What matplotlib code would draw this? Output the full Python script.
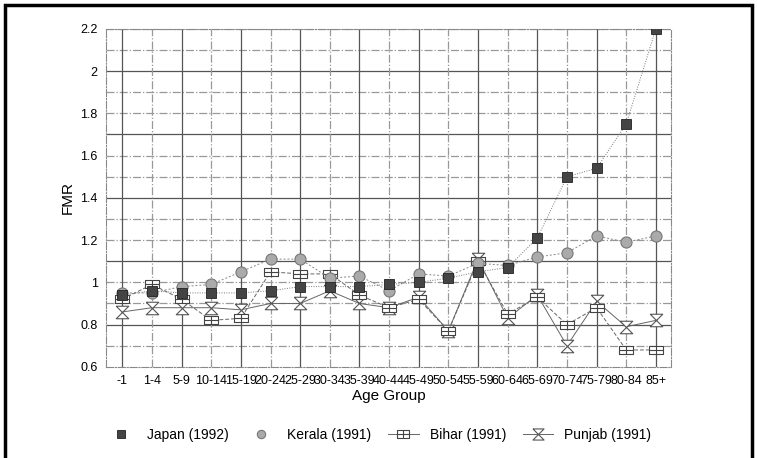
import numpy as np
import matplotlib
matplotlib.use("Agg")
import matplotlib.pyplot as plt
from matplotlib.path import Path
from matplotlib.patches import Rectangle
from matplotlib.lines import Line2D

plt.rcParams["font.family"] = ["Liberation Sans", "DejaVu Sans"]

# data
age_groups = ["-1", "1-4", "5-9", "10-14", "15-19", "20-24", "25-29", "30-34", "35-39",
              "40-44", "45-49", "50-54", "55-59", "60-64", "65-69", "70-74", "75-79",
              "80-84", "85+"]
japan = [0.94, 0.96, 0.95, 0.95, 0.95, 0.96, 0.98, 0.98, 0.98, 0.99, 1.00, 1.02, 1.05,
         1.07, 1.21, 1.50, 1.54, 1.75, 2.20]
kerala = [0.95, 0.95, 0.98, 0.99, 1.05, 1.11, 1.11, 1.02, 1.03, 0.96, 1.04, 1.03, 1.09,
          1.08, 1.12, 1.14, 1.22, 1.19, 1.22]
bihar = [0.92, 0.99, 0.92, 0.82, 0.83, 1.05, 1.04, 1.04, 0.94, 0.88, 0.92, 0.77, 1.10,
         0.85, 0.93, 0.80, 0.88, 0.68, 0.68]
punjab = [0.86, 0.88, 0.88, 0.88, 0.87, 0.90, 0.90, 0.96, 0.90, 0.88, 0.93, 0.77, 1.11,
          0.83, 0.94, 0.70, 0.91, 0.79, 0.82]

# custom markers: boxed cross and hourglass
box_cross = Path([(-1, -0.6), (1, -0.6), (1, 0.6), (-1, 0.6), (-1, -0.6),
                  (0, -0.6), (0, 0.6), (-1, 0), (1, 0)],
                 [Path.MOVETO, Path.LINETO, Path.LINETO, Path.LINETO, Path.LINETO,
                  Path.MOVETO, Path.LINETO, Path.MOVETO, Path.LINETO])
hourglass = Path([(-1, 1), (1, 1), (-1, -1), (1, -1), (-1, 1)],
                 [Path.MOVETO, Path.LINETO, Path.LINETO, Path.LINETO, Path.LINETO])

fig = plt.figure(figsize=(7.57, 4.58), dpi=100)
ax = fig.add_axes([0.140, 0.199, 0.746, 0.738])

x = np.arange(len(age_groups))

# grid: mixed styles like the scanned original
for i, v in enumerate(np.arange(0.7, 2.2, 0.1)):
    ls = "-" if i % 3 == 1 else "-."
    ax.axhline(v, color="#555555" if ls == "-" else "#999999", lw=0.9, ls=ls, zorder=0)
for i in x:
    ls = "-" if i % 2 == 0 else "-."
    ax.axvline(i, color="#555555" if ls == "-" else "#999999", lw=0.9, ls=ls, zorder=0)

ax.plot(x, punjab, color="#666666", lw=0.7, marker=hourglass, ms=9,
        mfc="white", mec="#555555", mew=0.8, zorder=3)
ax.plot(x, bihar, color="#666666", lw=0.7, ls=(0, (4, 2)), marker=box_cross, ms=10,
        mfc="white", mec="#444444", mew=0.8, zorder=3)
ax.plot(x, kerala, color="#888888", lw=0.7, ls=(0, (2, 2)), marker="o", ms=8,
        mfc="#aaaaaa", mec="#777777", mew=0.8, zorder=4)
ax.plot(x, japan, color="#777777", lw=0.7, ls=(0, (1, 1.5)), marker="s", ms=7,
        mfc="#444444", mec="#222222", mew=0.6, zorder=5)

ax.set_xlim(-0.55, 18.5)
ax.set_ylim(0.6, 2.2)
ax.set_yticks([0.6, 0.8, 1, 1.2, 1.4, 1.6, 1.8, 2, 2.2])
ax.set_yticklabels(["0.6", "0.8", "1", "1.2", "1.4", "1.6", "1.8", "2", "2.2"])
ax.set_xticks(x)
ax.set_xticklabels(age_groups)
ax.tick_params(axis="both", labelsize=9, length=0, pad=6)
ax.set_xlabel("Age Group", fontsize=11, labelpad=1)
ax.set_ylabel("FMR", fontsize=11, labelpad=4)
for s in ax.spines.values():
    s.set_color("#888888")
    s.set_linewidth(0.8)
    s.set_linestyle("-.")

# legend: Japan / Kerala show only the marker, Bihar / Punjab marker on a line
handles = [
    Line2D([], [], ls="none", marker="s", ms=6, mfc="#444444", mec="#222222", mew=0.6),
    Line2D([], [], ls="none", marker="o", ms=6, mfc="#aaaaaa", mec="#777777", mew=0.8),
    Line2D([], [], color="#666666", lw=0.7, marker=box_cross, ms=9,
           mfc="white", mec="#444444", mew=0.8),
    Line2D([], [], color="#666666", lw=0.7, marker=hourglass, ms=8,
           mfc="white", mec="#555555", mew=0.8),
]
labels = ["Japan (1992)", "Kerala (1991)", "Bihar (1991)", "Punjab (1991)"]
fig.legend(handles, labels, loc="center", bbox_to_anchor=(0.5, 0.05), ncol=4,
           frameon=False, fontsize=10, handlelength=2.2, columnspacing=1.2)

# outer frame
fig.patches.append(Rectangle((0.006, -0.01), 0.988, 0.999, transform=fig.transFigure,
                             fill=False, ec="black", lw=2.5))

fig.savefig("out.png", dpi=100)
